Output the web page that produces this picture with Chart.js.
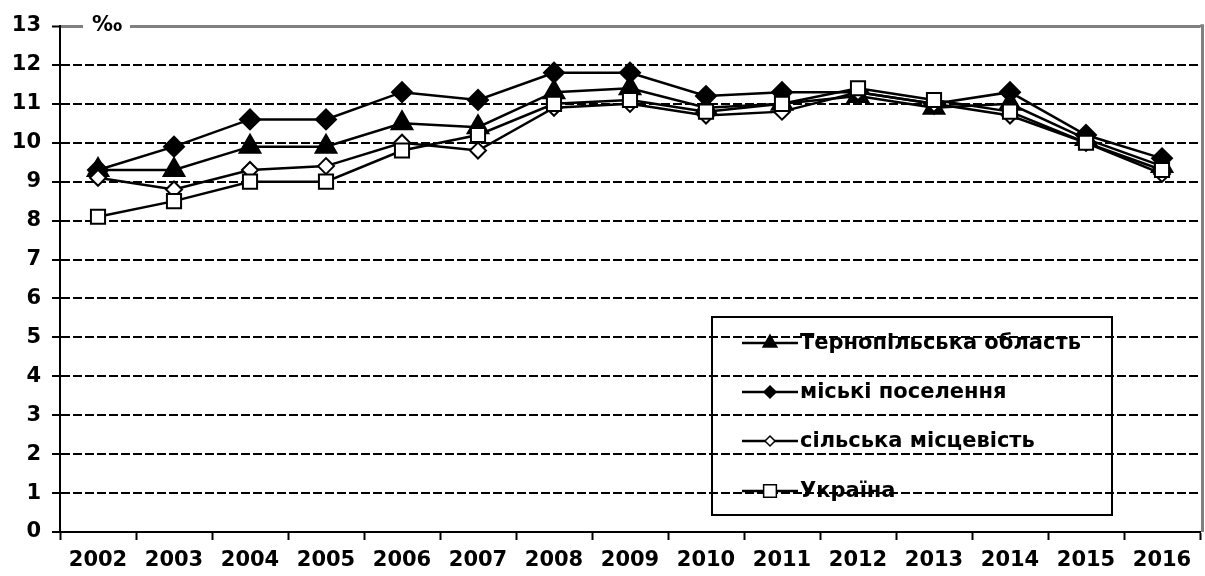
<!DOCTYPE html>
<html>
<head>
<meta charset="utf-8">
<script src="https://cdn.jsdelivr.net/npm/chart.js@4/dist/chart.umd.min.js"></script>
<style>
    html, body { margin: 0; padding: 0; background: #fff; }
    #wrap { width: 1205px; height: 576px; }
</style>
</head>
<body>
<div id="wrap"><canvas id="chart" width="1205" height="576"></canvas></div>
<script>
const years = ["2002", "2003", "2004", "2005", "2006", "2007", "2008", "2009",
    "2010", "2011", "2012", "2013", "2014", "2015", "2016"];
const ternopil = [9.3, 9.3, 9.9, 9.9, 10.5, 10.4, 11.3, 11.4, 10.9, 11.0, 11.2, 10.9, 11.0, 10.1, 9.4];
const urban = [9.3, 9.9, 10.6, 10.6, 11.3, 11.1, 11.8, 11.8, 11.2, 11.3, 11.3, 11.0, 11.3, 10.2, 9.6];
const rural = [9.1, 8.8, 9.3, 9.4, 10.0, 9.8, 10.9, 11.0, 10.7, 10.8, 11.3, 11.0, 10.7, 10.0, 9.2];
const ukraine = [8.1, 8.5, 9.0, 9.0, 9.8, 10.2, 11.0, 11.1, 10.8, 11.0, 11.4, 11.1, 10.8, 10.0, 9.3];
const seriesNames = ["Тернопільська область", "міські поселення", "сільська місцевість", "Україна"];
const unitLabel = "‰";

const yMin = 0;
const yMax = 13;

function series(label, data, style, radius, fill, order) {
    return {
        label: label,
        data: data,
        borderColor: "#000",
        borderWidth: 2.5,
        pointStyle: style,
        pointRadius: radius,
        pointHoverRadius: radius,
        pointBackgroundColor: fill,
        pointBorderColor: "#000",
        pointBorderWidth: 2,
        tension: 0,
        order: order
    };
}

const datasets = [
    series(seriesNames[0], ternopil, "triangle", 12, "#000", 4),
    series(seriesNames[1], urban, "rectRot", 10, "#000", 3),
    series(seriesNames[2], rural, "rectRot", 8, "#fff", 2),
    series(seriesNames[3], ukraine, "rect", 10, "#fff", 1)
];

// legend markers, smaller than on the lines
const legendMarks = [
    { style: "triangle", radius: 8, fill: "#000" },
    { style: "rectRot", radius: 6, fill: "#000" },
    { style: "rectRot", radius: 5, fill: "#fff" },
    { style: "rect", radius: 9, fill: "#fff" }
];

const framePlugin = {
    id: "frame",
    afterDraw(chart) {
        const ctx = chart.ctx;
        const area = chart.chartArea;
        ctx.save();

        // gray right border
        ctx.strokeStyle = "#808080";
        ctx.lineWidth = 3;
        ctx.beginPath();
        ctx.moveTo(area.right + 2.5, area.top - 1.5);
        ctx.lineTo(area.right + 2.5, area.bottom);
        ctx.stroke();
        ctx.beginPath();
        ctx.moveTo(area.right, area.top);
        ctx.lineTo(area.right + 4, area.top);
        ctx.stroke();

        // unit label sitting in the top line
        ctx.fillStyle = "#fff";
        ctx.fillRect(83, area.top - 4, 47, 8);
        ctx.fillStyle = "#000";
        ctx.font = "bold 21px 'DejaVu Sans'";
        ctx.textAlign = "center";
        ctx.textBaseline = "middle";
        ctx.fillText(unitLabel, 107, area.top);

        // legend box
        const bx = 712, by = 317, bw = 400, bh = 198;
        ctx.strokeStyle = "#000";
        ctx.lineWidth = 2;
        ctx.strokeRect(bx, by, bw, bh);

        const rows = [343, 392, 441, 491];
        ctx.font = "bold 21px 'DejaVu Sans'";
        ctx.textAlign = "left";
        rows.forEach((y, i) => {
            ctx.strokeStyle = "#000";
            ctx.lineWidth = 2.5;
            ctx.beginPath();
            ctx.moveTo(742, y);
            ctx.lineTo(798, y);
            ctx.stroke();
            const m = legendMarks[i];
            ctx.fillStyle = m.fill;
            ctx.strokeStyle = "#000";
            ctx.lineWidth = 1.5;
            Chart.helpers.drawPoint(ctx, { pointStyle: m.style, radius: m.radius, borderWidth: 1.5, rotation: 0 }, 770, y);
            ctx.fillStyle = "#000";
            ctx.fillText(seriesNames[i], 800, y + 1);
        });
        ctx.restore();
    }
};

new Chart(document.getElementById("chart"), {
    type: "line",
    data: { labels: years, datasets: datasets },
    options: {
        responsive: false,
        animation: false,
        layout: { autoPadding: false, padding: { top: 26, right: 5, left: 0, bottom: 0 } },
        plugins: {
            legend: { display: false },
            tooltip: { enabled: false }
        },
        scales: {
            x: {
                offset: true,
                afterFit: (s) => {
                    s.height = 44;
                    s.paddingLeft = 0;
                    s.paddingRight = 0;
                },
                grid: {
                    offset: true,
                    drawOnChartArea: false,
                    drawTicks: true,
                    tickLength: 8,
                    tickColor: "#000",
                    tickWidth: 2
                },
                border: { color: "#000", width: 2 },
                ticks: {
                    color: "#000",
                    padding: 8,
                    maxRotation: 0,
                    autoSkip: false,
                    font: { family: "'DejaVu Sans'", weight: "bold", size: 21 }
                }
            },
            y: {
                min: yMin,
                max: yMax,
                afterFit: (s) => { s.width = 60; },
                grid: {
                    color: (c) => {
                        if (!c.tick) return "#000";
                        if (c.tick.value === yMin) return "rgba(0,0,0,0)";
                        if (c.tick.value === yMax) return "#808080";
                        return "#000";
                    },
                    lineWidth: (c) => (c.tick && c.tick.value === yMax ? 3 : 2),
                    drawTicks: true,
                    tickLength: 8,
                    tickColor: "#000",
                    tickWidth: 2
                },
                border: {
                    color: "#000",
                    width: 2,
                    dash: (c) => {
                        if (!c.tick) return [];
                        if (c.tick.value === yMax || c.tick.value === yMin) return [];
                        return [9, 3];
                    }
                },
                ticks: {
                    stepSize: 1,
                    color: "#000",
                    padding: 11,
                    font: { family: "'DejaVu Sans'", weight: "bold", size: 21 }
                }
            }
        }
    },
    plugins: [framePlugin]
});
</script>
</body>
</html>
